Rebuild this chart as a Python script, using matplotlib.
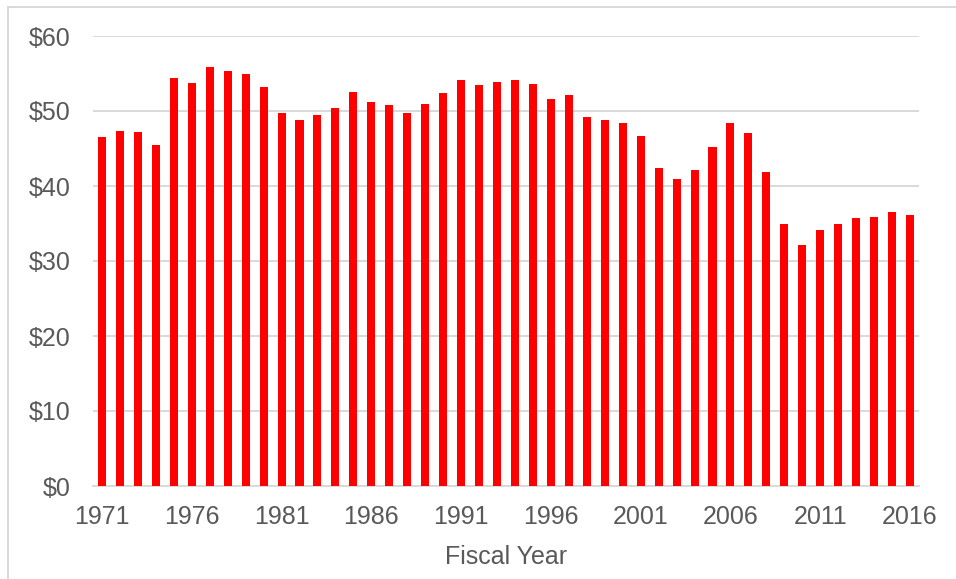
import matplotlib
matplotlib.use("Agg")
import matplotlib.pyplot as plt
from matplotlib.lines import Line2D

plt.rcParams['font.family'] = ['Liberation Sans', 'DejaVu Sans']

# fiscal years and values (dollars)
years = list(range(1971, 2017))
values = [46.5, 47.3, 47.2, 45.5, 54.4, 53.8, 55.9, 55.4, 55.0, 53.2,
          49.7, 48.8, 49.5, 50.4, 52.5, 51.2, 50.8, 49.8, 50.9, 52.4,
          54.1, 53.5, 53.9, 54.2, 53.6, 51.6, 52.1, 49.2, 48.8, 48.4,
          46.7, 42.4, 41.0, 42.1, 45.2, 48.4, 47.1, 41.9, 34.9, 32.1,
          34.1, 34.9, 35.7, 35.9, 36.6, 36.1]
y_ticks = [0, 10, 20, 30, 40, 50, 60]
y_labels = ["$" + str(v) for v in y_ticks]
x_label_years = [1971, 1976, 1981, 1986, 1991, 1996, 2001, 2006, 2011, 2016]

grey = "#595959"
W, H = 956, 579
fig = plt.figure(figsize=(W / 100, H / 100), dpi=100)
ax = fig.add_axes([93 / W, 1 - 486 / H, (919 - 93) / W, (486 - 36) / H])

idx = list(range(len(years)))
ax.bar(idx, values, width=0.45, color="#ff0000", zorder=3)

ax.set_xlim(-0.5, len(years) - 0.5)
ax.set_ylim(0, 60)
ax.set_yticks(y_ticks)
ax.set_yticklabels(y_labels)
ax.set_xticks([years.index(y) for y in x_label_years])
ax.set_xticklabels([str(y) for y in x_label_years])

ax.grid(axis="y", color="#d9d9d9", linewidth=1.4, zorder=0)
for s in ["top", "right", "left"]:
    ax.spines[s].set_visible(False)
ax.spines["bottom"].set_color("#d9d9d9")
ax.spines["bottom"].set_linewidth(1.4)
ax.tick_params(axis="both", length=0, labelsize=18, labelcolor=grey)
ax.tick_params(axis="y", pad=16)
ax.tick_params(axis="x", pad=14)

ax.set_xlabel("Fiscal Year", fontsize=18, color=grey, labelpad=11)

# outer chart border (only top and left visible in the crop)
fig.add_artist(Line2D([8 / W, 1], [1 - 7 / H, 1 - 7 / H], color="#d9d9d9", linewidth=1.4))
fig.add_artist(Line2D([8 / W, 8 / W], [0, 1 - 7 / H], color="#d9d9d9", linewidth=1.4))

fig.savefig("out.png", dpi=100)
